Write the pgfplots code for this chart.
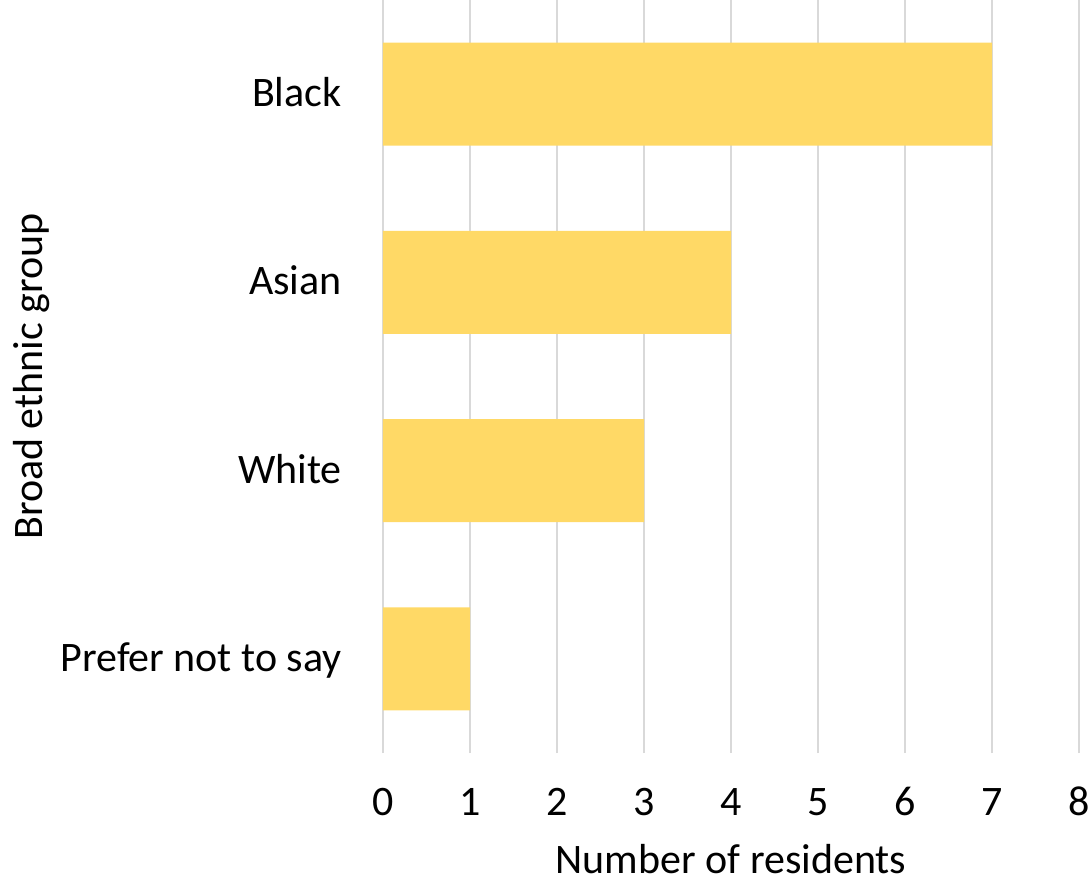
\documentclass[border=0pt]{standalone}
\usepackage{fontspec}
\setmainfont{Carlito}
\usepackage{pgfplots}
\pgfplotsset{compat=1.18}
\definecolor{barc}{HTML}{FFD966}
\definecolor{gridc}{HTML}{D9D9D9}
\begin{document}
\begin{tikzpicture}
\begin{axis}[
  scale only axis,
  width=348pt, height=376.5pt,
  xbar, bar width=0.548,
  xmin=0, xmax=8, ymin=-0.5, ymax=3.5,
  xtick={0,1,...,8},
  ytick={0,1,2,3},
  yticklabels={Prefer not to say, White, Asian, Black},
  axis line style={draw=none},
  major tick length=0pt,
  xmajorgrids, ymajorgrids=false,
  major grid style={gridc, line width=0.75pt},
  font=\fontsize{21}{25}\selectfont,
  /pgf/number format/assume math mode=true,
  tick label style={font=\fontsize{21}{25}\selectfont},
  xticklabel style={anchor=base, inner sep=0pt, yshift=-31pt},
  yticklabel style={anchor=base east, inner sep=0pt, xshift=-20.5pt, yshift=-6.3pt},
  xlabel={Number of residents},
  ylabel={Broad ethnic group},
  xlabel style={at={(axis description cs:0.5,0)}, anchor=base, inner sep=0pt, yshift=-60pt},
  ylabel style={at={(axis description cs:0,0.5)}, anchor=base, inner sep=0pt, yshift=170pt},
  clip=false,
]
\addplot[fill=barc, draw=none] coordinates {(1,0) (3,1) (4,2) (7,3)};
\coordinate (sw) at (rel axis cs:0,0);
\coordinate (ne) at (rel axis cs:1,1);
\end{axis}
\pgfresetboundingbox
\path ([xshift=-191.5pt,yshift=-62pt]sw) rectangle ([xshift=5pt]ne);
\end{tikzpicture}
\end{document}
